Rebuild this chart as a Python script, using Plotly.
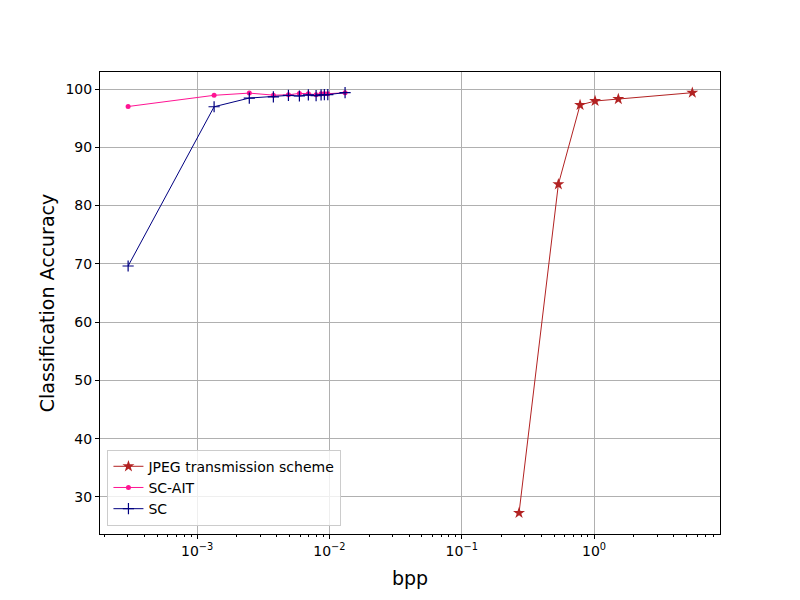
import plotly.graph_objects as go

# ---- data ----
jpeg_bpp = [0.271, 0.5375, 0.784, 1.018, 1.526, 5.53]
jpeg_acc = [27.26, 83.65, 97.26, 97.94, 98.28, 99.37]

sc_bpp = [3.01e-4, 1.344e-3, 2.48e-3, 3.77e-3, 4.90e-3, 5.93e-3, 6.93e-3,
          7.93e-3, 8.65e-3, 9.16e-3, 9.72e-3, 1.313e-2]
sc_ait_acc = [97.0, 98.92, 99.3, 98.95, 99.0, 99.25, 99.2, 99.0, 99.2, 99.2, 99.2, 99.35]
sc_acc = [69.63, 96.96, 98.45, 98.65, 98.9, 98.8, 99.0, 98.85, 99.0, 99.05, 99.05, 99.37]

x_tickvals = [1e-3, 1e-2, 1e-1, 1e0]
x_ticktext = ["10<sup>\u22123</sup>", "10<sup>\u22122</sup>", "10<sup>\u22121</sup>", "10<sup>0</sup>"]
y_tickvals = [30, 40, 50, 60, 70, 80, 90, 100]

FONT = "DejaVu Sans"

fig = go.Figure()
fig.add_trace(go.Scatter(
    x=jpeg_bpp, y=jpeg_acc, mode="lines+markers", name="JPEG transmission scheme",
    line=dict(color="#b22222", width=1),
    marker=dict(symbol="star", size=9, color="#b22222", line=dict(width=0))))
fig.add_trace(go.Scatter(
    x=sc_bpp, y=sc_ait_acc, mode="lines+markers", name="SC-AIT",
    line=dict(color="#ff1493", width=1),
    marker=dict(symbol="circle", size=5, color="#ff1493", line=dict(width=0))))
fig.add_trace(go.Scatter(
    x=sc_bpp, y=sc_acc, mode="lines+markers", name="SC",
    line=dict(color="#000080", width=1),
    marker=dict(symbol="cross-thin", size=8, color="#000080",
                line=dict(width=1.2, color="#000080"))))

fig.update_layout(
    width=800, height=600,
    margin=dict(l=92, r=88, t=64, b=74, pad=0),
    paper_bgcolor="white", plot_bgcolor="white",
    font=dict(family=FONT, size=14, color="black"),
    showlegend=True,
    legend=dict(x=0.012, y=0.018, xanchor="left", yanchor="bottom",
                bgcolor="rgba(255,255,255,0.8)", bordercolor="#cccccc", borderwidth=1,
                font=dict(family=FONT, size=14), tracegroupgap=0, itemwidth=30),
)
fig.update_xaxes(
    type="log", range=[-3.734, 0.952],
    tickvals=x_tickvals, ticktext=x_ticktext,
    ticks="outside", ticklen=4, tickwidth=1, tickcolor="black",
    showline=True, linecolor="black", linewidth=1, mirror=True,
    showgrid=True, gridcolor="#b0b0b0", gridwidth=1,
    zeroline=False,
    tickfont=dict(family=FONT, size=14),
    minor=dict(ticks="outside", ticklen=2, tickwidth=0.8, tickcolor="black",
               showgrid=False, dtick="D1"),
    title=dict(text="bpp", font=dict(family=FONT, size=19), standoff=13),
)
fig.update_yaxes(
    range=[23.65, 102.92],
    tickvals=y_tickvals,
    ticks="outside", ticklen=4, tickwidth=1, tickcolor="black",
    showline=True, linecolor="black", linewidth=1, mirror=True,
    showgrid=True, gridcolor="#b0b0b0", gridwidth=1,
    zeroline=False,
    tickfont=dict(family=FONT, size=14),
    title=dict(text="Classification Accuracy", font=dict(family=FONT, size=19), standoff=5),
)

fig.write_html("out.html")
